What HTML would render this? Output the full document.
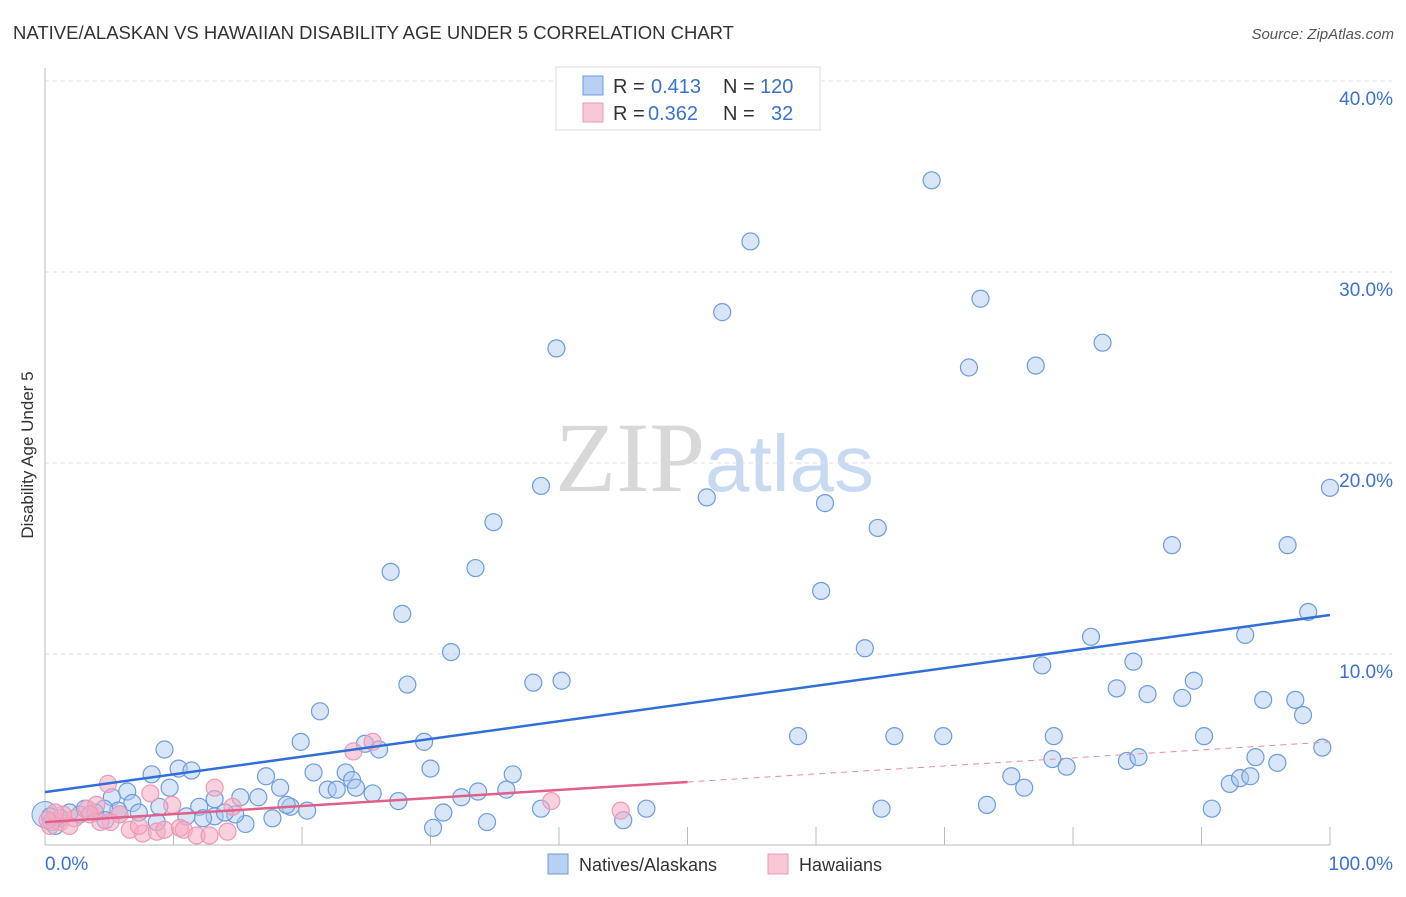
<!DOCTYPE html>
<html><head><meta charset="utf-8"><style>
body{margin:0;background:#fff;font-family:"Liberation Sans",sans-serif;}
svg text{font-family:"Liberation Sans",sans-serif;}
</style></head><body>
<svg id="chart" width="1406" height="892" xmlns="http://www.w3.org/2000/svg">
<text x="13" y="39" font-size="18.5" fill="#333">NATIVE/ALASKAN VS HAWAIIAN DISABILITY AGE UNDER 5 CORRELATION CHART</text>
<text x="1394" y="39" font-size="15" fill="#555" text-anchor="end" font-style="italic">Source: ZipAtlas.com</text>
<text x="555" y="491" font-size="100"><tspan font-family="Liberation Serif,serif" fill="#d8d8d8">ZIP</tspan><tspan fill="#c8daf2" font-size="80">atlas</tspan></text>
<g id="grid"></g>
<g id="axes"></g>
<g id="pts"></g>
<g id="trends"></g>
<text transform="translate(33,455) rotate(-90)" font-size="17" fill="#333" text-anchor="middle">Disability Age Under 5</text>
<g>
<rect x="556" y="67" width="264" height="63" fill="#fff" stroke="#ddd"/>
<rect x="583" y="76" width="20" height="19" fill="#b7d0f4" stroke="#6d9be0"/>
<rect x="583" y="103" width="20" height="19" fill="#f9c8d6" stroke="#ec9ab3"/>
<text x="613" y="93" font-size="20" fill="#333">R =</text>
<text x="651" y="93" font-size="20" fill="#3a72d0">0.413</text>
<text x="723" y="93" font-size="20" fill="#333">N =</text>
<text x="760" y="93" font-size="20" fill="#3a72d0">120</text>
<text x="613" y="120" font-size="20" fill="#333">R =</text>
<text x="648" y="120" font-size="20" fill="#3a72d0">0.362</text>
<text x="723" y="120" font-size="20" fill="#333">N =</text>
<text x="771" y="120" font-size="20" fill="#3a72d0">32</text>
</g>
<g>
<rect x="548" y="854" width="20" height="20" fill="#b7d0f4" stroke="#6d9be0"/>
<text x="579" y="871" font-size="18" fill="#333">Natives/Alaskans</text>
<rect x="768" y="854" width="20" height="20" fill="#f9c8d6" stroke="#ec9ab3"/>
<text x="799" y="871" font-size="18" fill="#333">Hawaiians</text>
</g>
</svg>
<script>
const yTicks=[10,20,30,40];
const yTickLabels=["10.0%","20.0%","30.0%","40.0%"];
const xTickLabels=["0.0%","100.0%"];
const blueX=[69.0,54.9,52.7,72.8,39.8,71.9,77.1,82.3,38.6,51.5,60.7,34.9,64.8,100.0,26.9,33.5,87.7,96.7,27.8,60.4,98.3,31.6,63.8,81.4,93.4,28.2,38.0,40.2,77.6,84.7,21.4,83.4,85.8,89.4,88.5,94.8,97.3,97.9,58.6,66.1,69.9,78.5,90.2,99.4,19.9,29.5,24.9,26.0,78.4,79.5,84.2,85.1,94.2,95.9,75.2,76.2,92.2,93.0,93.8,30.0,36.4,20.9,23.4,17.2,9.3,8.3,10.4,11.4,23.9,24.2,18.3,22.0,25.5,22.7,33.7,35.9,32.4,27.5,16.6,13.2,15.2,12.0,9.7,6.4,5.2,6.8,19.1,20.4,18.8,38.6,46.8,65.1,73.3,90.8,31.0,34.4,30.2,45.0,17.7,15.6,13.2,14.8,12.3,11.0,8.7,7.3,5.7,4.6,3.9,2.7,1.9,1.2,0.5,0.4,4.7,3.1,5.8,14.0,8.9,0.8];
const blueY=[34.8,31.6,27.9,28.6,26.0,25.0,25.1,26.3,18.8,18.2,17.9,16.9,16.6,18.7,14.3,14.5,15.7,15.7,12.1,13.3,12.2,10.1,10.3,10.9,11.0,8.4,8.5,8.6,9.4,9.6,7.0,8.2,7.9,8.6,7.7,7.6,7.6,6.8,5.7,5.7,5.7,5.7,5.7,5.1,5.4,5.4,5.3,5.0,4.5,4.1,4.4,4.6,4.6,4.3,3.6,3.0,3.2,3.5,3.6,4.0,3.7,3.8,3.8,3.6,5.0,3.7,4.0,3.9,3.4,3.0,3.0,2.9,2.7,2.9,2.8,2.9,2.5,2.3,2.5,2.4,2.5,2.0,3.0,2.8,2.5,2.2,2.0,1.8,2.1,1.9,1.9,1.9,2.1,1.9,1.7,1.2,0.9,1.3,1.4,1.1,1.5,1.6,1.4,1.5,1.2,1.7,1.8,1.9,1.7,1.6,1.7,1.4,1.2,1.5,1.3,1.9,1.6,1.7,2.0,1.0];
const pinkX=[4.9,8.2,13.2,14.6,9.9,24.0,25.5,39.4,44.8,3.3,4.0,5.8,1.2,2.3,0.4,6.6,7.6,8.7,9.3,10.5,10.8,11.8,12.8,14.2,3.5,1.9,5.1,7.3,1.4,0.8,0.2,4.3];
const pinkY=[3.2,2.7,3.0,2.0,2.1,4.9,5.4,2.3,1.8,1.9,2.1,1.6,1.2,1.4,1.0,0.8,0.6,0.7,0.8,0.9,0.8,0.5,0.5,0.7,1.6,1.0,1.2,1.0,1.6,1.7,1.3,1.2];
const blueTrend=[2.77,12.04];
const pinkTrend=[1.2,5.4];
const pinkSolidEnd=50;
const X=v=>45+v*12.85, Y=v=>845-v*19.1;
const NS="http://www.w3.org/2000/svg";
function mk(p,t,a){const e=document.createElementNS(NS,t);for(const k in a)e.setAttribute(k,a[k]);p.appendChild(e);return e;}
const grid=document.getElementById('grid'),axes=document.getElementById('axes'),pts=document.getElementById('pts'),tr=document.getElementById('trends');
yTicks.forEach((v,i)=>{
 const l=mk(grid,'line',{x1:45,x2:1392,y1:Y(v),y2:Y(v),stroke:'#ddd','stroke-dasharray':'4,4'});
 
 
 const t=mk(axes,'text',{x:1393,y:Y(v)+24,'font-size':19,fill:'#3a72d0','text-anchor':'end'});
 
 
 t.textContent=yTickLabels[i];
});
mk(axes,'line',{x1:45,x2:45,y1:68,y2:845,stroke:'#bbb'});
mk(axes,'line',{x1:45,x2:1330,y1:845,y2:845,stroke:'#bbb'});
for(let i=1;i<=10;i++){const tk=mk(axes,'line',{x1:X(i*10),x2:X(i*10),y1:827,y2:845,stroke:'#bbb'});}
[[0,'start',45],[100,'end',1393]].forEach((d,i)=>{const t=mk(axes,'text',{x:d[2],y:870,'font-size':19,fill:'#3a72d0','text-anchor':d[1]});t.textContent=xTickLabels[i];});
mk(pts,'circle',{cx:X(0),cy:Y(1.6),r:13,fill:'rgba(168,200,240,0.5)',stroke:'#6d9be0'});
blueX.forEach((x,i)=>{const c=mk(pts,'circle',{cx:X(x),cy:Y(blueY[i]),r:8.5,fill:'rgba(168,200,240,0.45)',stroke:'#6d9be0','stroke-width':1.2});
 
 });
pinkX.forEach((x,i)=>{const c=mk(pts,'circle',{cx:X(x),cy:Y(pinkY[i]),r:8.5,fill:'rgba(246,170,195,0.55)',stroke:'#ec9ab3','stroke-width':1.2});
 
 });
const bl=mk(tr,'line',{x1:X(0),y1:Y(blueTrend[0]),x2:X(100),y2:Y(blueTrend[1]),stroke:'#2f6fd6','stroke-width':2.5});


const pm=pinkTrend[0]+(pinkTrend[1]-pinkTrend[0])*pinkSolidEnd/100;
const pl=mk(tr,'line',{x1:X(0),y1:Y(pinkTrend[0]),x2:X(pinkSolidEnd),y2:Y(pm),stroke:'#e0608a','stroke-width':2.5});


const pd=mk(tr,'line',{x1:X(pinkSolidEnd),y1:Y(pm),x2:X(100),y2:Y(pinkTrend[1]),stroke:'#e88aa5','stroke-width':1,'stroke-dasharray':'6,5'});


</script>
</body></html>
